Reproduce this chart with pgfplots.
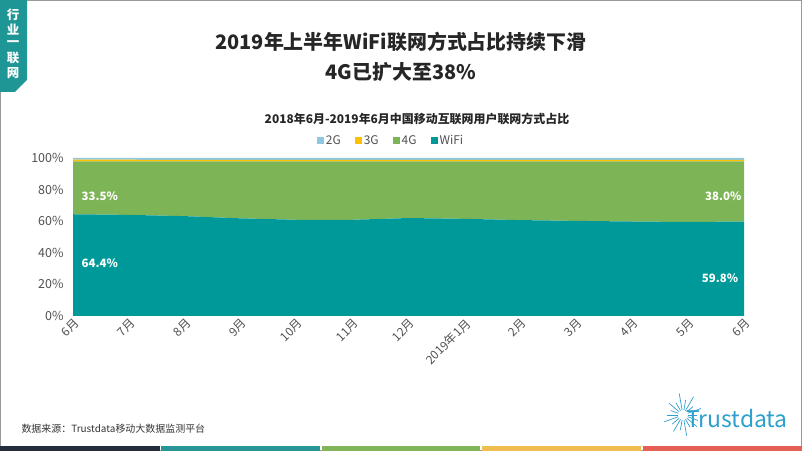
\documentclass[border=0pt]{standalone}
\usepackage{pgfplots}
\pgfplotsset{compat=1.18}
\usepackage{fontspec}
\setmainfont{Noto Sans CJK SC}
\definecolor{wifi}{RGB}{0,153,153}
\definecolor{fourg}{RGB}{125,180,85}
\definecolor{threeg}{RGB}{255,192,0}
\definecolor{twog}{RGB}{141,199,224}
\definecolor{tabteal}{RGB}{30,150,150}
\definecolor{txtgray}{RGB}{80,80,80}
\definecolor{barnavy}{RGB}{35,45,60}
\definecolor{barteal}{RGB}{40,150,150}
\definecolor{bargreen}{RGB}{130,180,90}
\definecolor{baryellow}{RGB}{240,190,80}
\definecolor{barred}{RGB}{230,95,85}
\definecolor{logoblue}{RGB}{45,160,205}
\begin{document}
\begin{tikzpicture}[x=1bp,y=1bp]
\path[use as bounding box] (0,0) rectangle (802,451);
\draw[gray!80, line width=1.2bp] (0.6,0.6) rectangle (801.4,450.4);
% left tab
\fill[tabteal] (0,451) -- (27,451) -- (27,371) -- (15,359) -- (0,359) -- cycle;
\foreach \c/\yy in {行/436,业/421,一/407,联/393,网/378}
  \node[white, font=\bfseries\fontsize{12.5}{12.5}\selectfont] at (13,\yy) {\c};
% titles
\node[font=\bfseries\fontsize{20}{20}\selectfont, text=black!85] at (401,409) {2019年上半年WiFi联网方式占比持续下滑};
\node[font=\bfseries\fontsize{20}{20}\selectfont, text=black!85] at (401,379) {4G已扩大至38\%};
\node[font=\bfseries\fontsize{12}{12}\selectfont, text=black!85] at (417,332) {2018年6月-2019年6月中国移动互联网用户联网方式占比};
\begin{axis}[
  at={(73bp,135bp)}, anchor=south west,
  width=671bp, height=158bp, scale only axis,
  xmin=0, xmax=12, ymin=0, ymax=100,
  stack plots=y,
  axis line style={draw=none},
  tick style={draw=none},
  ytick={0,20,40,60,80,100},
  yticklabels={0\%,20\%,40\%,60\%,80\%,100\%},
  xtick={0,1,2,3,4,5,6,7,8,9,10,11,12},
  xticklabels={6月,7月,8月,9月,10月,11月,12月,2019年1月,2月,3月,4月,5月,6月},
  x tick label style={rotate=45, anchor=north east, font=\fontsize{12}{12}\selectfont, text=txtgray, inner sep=1bp},
  y tick label style={font=\fontsize{12.5}{12.5}\selectfont, text=txtgray, xshift=-6bp},
  reverse legend,
  legend columns=4,
  legend style={at={(0.474,1.108)}, anchor=center, draw=none, fill=none,
    font=\fontsize{12}{12}\selectfont, text=txtgray,
    /tikz/every even column/.append style={column sep=12bp}},
  legend image code/.code={\fill[#1] (0bp,-3.5bp) rectangle (7bp,3.5bp);},
  clip=false,
]
\addplot[fill=wifi, draw=none] coordinates {(0,64.4) (1,64.0) (2,63.2) (3,61.8) (4,60.9) (5,60.9) (6,62.0) (7,61.5) (8,60.7) (9,60.2) (10,59.8) (11,59.5) (12,59.8)} \closedcycle;
\addplot[fill=fourg, draw=none] coordinates {(0,33.5) (1,33.9) (2,34.6) (3,36.0) (4,36.9) (5,36.9) (6,35.8) (7,36.3) (8,37.1) (9,37.6) (10,38.0) (11,38.3) (12,38.0)} \closedcycle;
\addplot[fill=threeg, draw=none] coordinates {(0,1.0) (1,1.0) (2,1.0) (3,1.0) (4,1.0) (5,1.0) (6,1.0) (7,1.0) (8,1.0) (9,1.0) (10,1.0) (11,1.0) (12,1.0)} \closedcycle;
\addplot[fill=twog, draw=none] coordinates {(0,1.1) (1,1.1) (2,1.2) (3,1.2) (4,1.2) (5,1.2) (6,1.2) (7,1.2) (8,1.2) (9,1.2) (10,1.2) (11,1.2) (12,1.2)} \closedcycle;
\legend{WiFi,4G,3G,2G}
\coordinate (la) at (axis cs:0.48,76);
\coordinate (lb) at (axis cs:0.48,33.5);
\coordinate (lc) at (axis cs:11.63,76);
\coordinate (ld) at (axis cs:11.57,24);
\end{axis}
\node[white, font=\bfseries\fontsize{11.5}{11.5}\selectfont] at (la) {33.5\%};
\node[white, font=\bfseries\fontsize{11.5}{11.5}\selectfont] at (lb) {64.4\%};
\node[white, font=\bfseries\fontsize{11.5}{11.5}\selectfont] at (lc) {38.0\%};
\node[white, font=\bfseries\fontsize{11.5}{11.5}\selectfont] at (ld) {59.8\%};
% footer
\node[anchor=west, font=\fontsize{10}{10}\selectfont, text=black!80] at (18,22) {数据来源：Trustdata移动大数据监测平台};
\node[anchor=west, font=\fontsize{23}{23}\selectfont, text=logoblue, inner sep=0pt] at (686,32) {Trustdata};
\foreach \a/\r in {0/14,20/19,40/13,60/21,80/15,100/22,120/14,140/18,160/13,180/16,200/20,220/14,240/19,260/15,280/21,300/14,320/18,340/16}
  \draw[logoblue, line width=0.7bp] (683,36) ++(\a:5) -- ++(\a:\r-5);
\fill[barnavy] (0,0) rectangle (160,5);
\fill[barteal] (161,0) rectangle (320,5);
\fill[bargreen] (322,0) rectangle (480,5);
\fill[baryellow] (482,0) rectangle (641,5);
\fill[barred] (643,0) rectangle (802,5);
\end{tikzpicture}
\end{document}
